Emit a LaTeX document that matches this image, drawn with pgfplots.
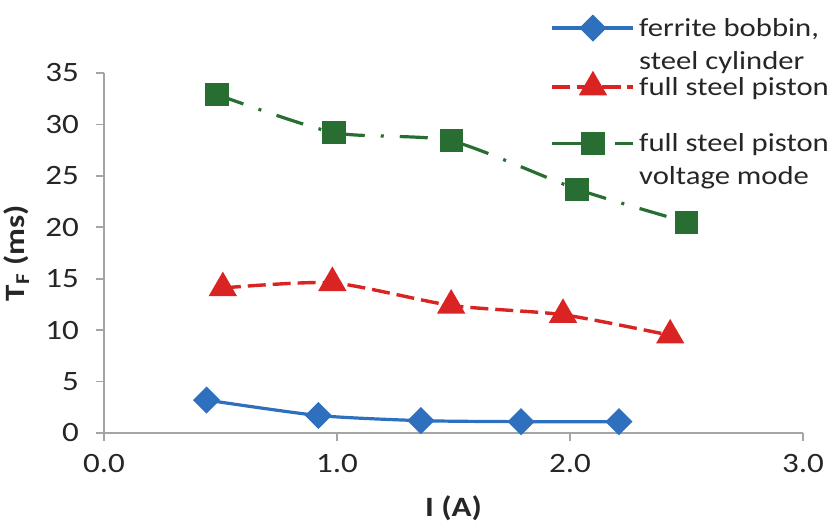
\documentclass[border=0pt]{standalone}
\usepackage{fontspec}
\setmainfont{Carlito}[FakeStretch=1.18]
\usepackage{pgfplots}
\pgfplotsset{compat=1.18}
\usetikzlibrary{plotmarks}
\definecolor{cblue}{RGB}{46,112,190}
\definecolor{cred}{RGB}{218,35,35}
\definecolor{cgreen}{RGB}{40,110,50}
\definecolor{caxis}{RGB}{165,165,165}
\begin{document}
\begin{tikzpicture}
\path[use as bounding box] (-52pt,-44.5pt) rectangle (366pt,216.5pt);
\begin{axis}[
 at={(0,0)}, anchor=south west,
 scale only axis, width=349.5pt, height=180pt,
 xmin=0, xmax=3, ymin=0, ymax=35,
 axis lines*=left, axis line style={caxis, line width=0.8pt, -},
 xtick={0,1,2,3}, ytick={0,5,...,35},
 tick align=outside, major tick length=4pt, tick style={caxis, line width=0.8pt},
 xticklabel style={/pgf/number format/.cd, fixed, fixed zerofill, precision=1},
 xticklabel shift=3pt, yticklabel shift=5pt,
 /pgf/number format/assume math mode=true,
 ticklabel style={font=\fontsize{14}{16}\selectfont, text=black!85},
 xlabel={I (A)}, ylabel={T\textsubscript{F} (ms)},
 label style={font=\fontsize{14}{16}\selectfont\bfseries, text=black!85},
 xlabel style={at={(axis description cs:0.5,-0.208)}, anchor=center},
 ylabel style={at={(axis description cs:-0.125,0.5)}, anchor=center},
 legend style={at={(0.63,1.176)}, anchor=north west, draw=none, fill=none,
   font=\fontsize{13}{16.5}\selectfont, text=black!85, nodes={align=left}, row sep=-1.5pt},
 legend cell align=left,
 legend style={cells={anchor=base west}},
 legend image code/.code={\draw[mark repeat=2, mark phase=2] plot coordinates {(0pt,4pt)(20.25pt,4pt)(40.5pt,4pt)};},
]
\addplot[cblue, line width=1.6pt, smooth, tension=0.4, mark=square*, mark size=4pt, mark options={solid, rotate=45},
  legend image post style={yshift=16.5pt}]
 coordinates {(0.44,3.2)(0.92,1.7)(1.36,1.2)(1.79,1.1)(2.21,1.1)};
\addlegendentry{ferrite bobbin,\\steel cylinder}
\addplot[cred, line width=1.7pt, dash pattern=on 9pt off 3.5pt, smooth, tension=0.4, mark=triangle*, mark size=6.5pt, mark options={solid}]
 coordinates {(0.51,14.1)(0.98,14.6)(1.49,12.4)(1.97,11.5)(2.43,9.5)};
\addlegendentry{full steel piston}
\addplot[cgreen, line width=1.6pt, dash pattern=on 14pt off 8pt on 1.5pt off 8pt, smooth, tension=0.4, mark=square*, mark size=5pt, mark options={solid},
  legend image post style={yshift=16.5pt}]
 coordinates {(0.485,32.9)(0.987,29.2)(1.49,28.4)(2.03,23.7)(2.50,20.5)};
\addlegendentry{\rule{0pt}{24pt}full steel piston\\voltage mode}
\end{axis}
\end{tikzpicture}
\end{document}
